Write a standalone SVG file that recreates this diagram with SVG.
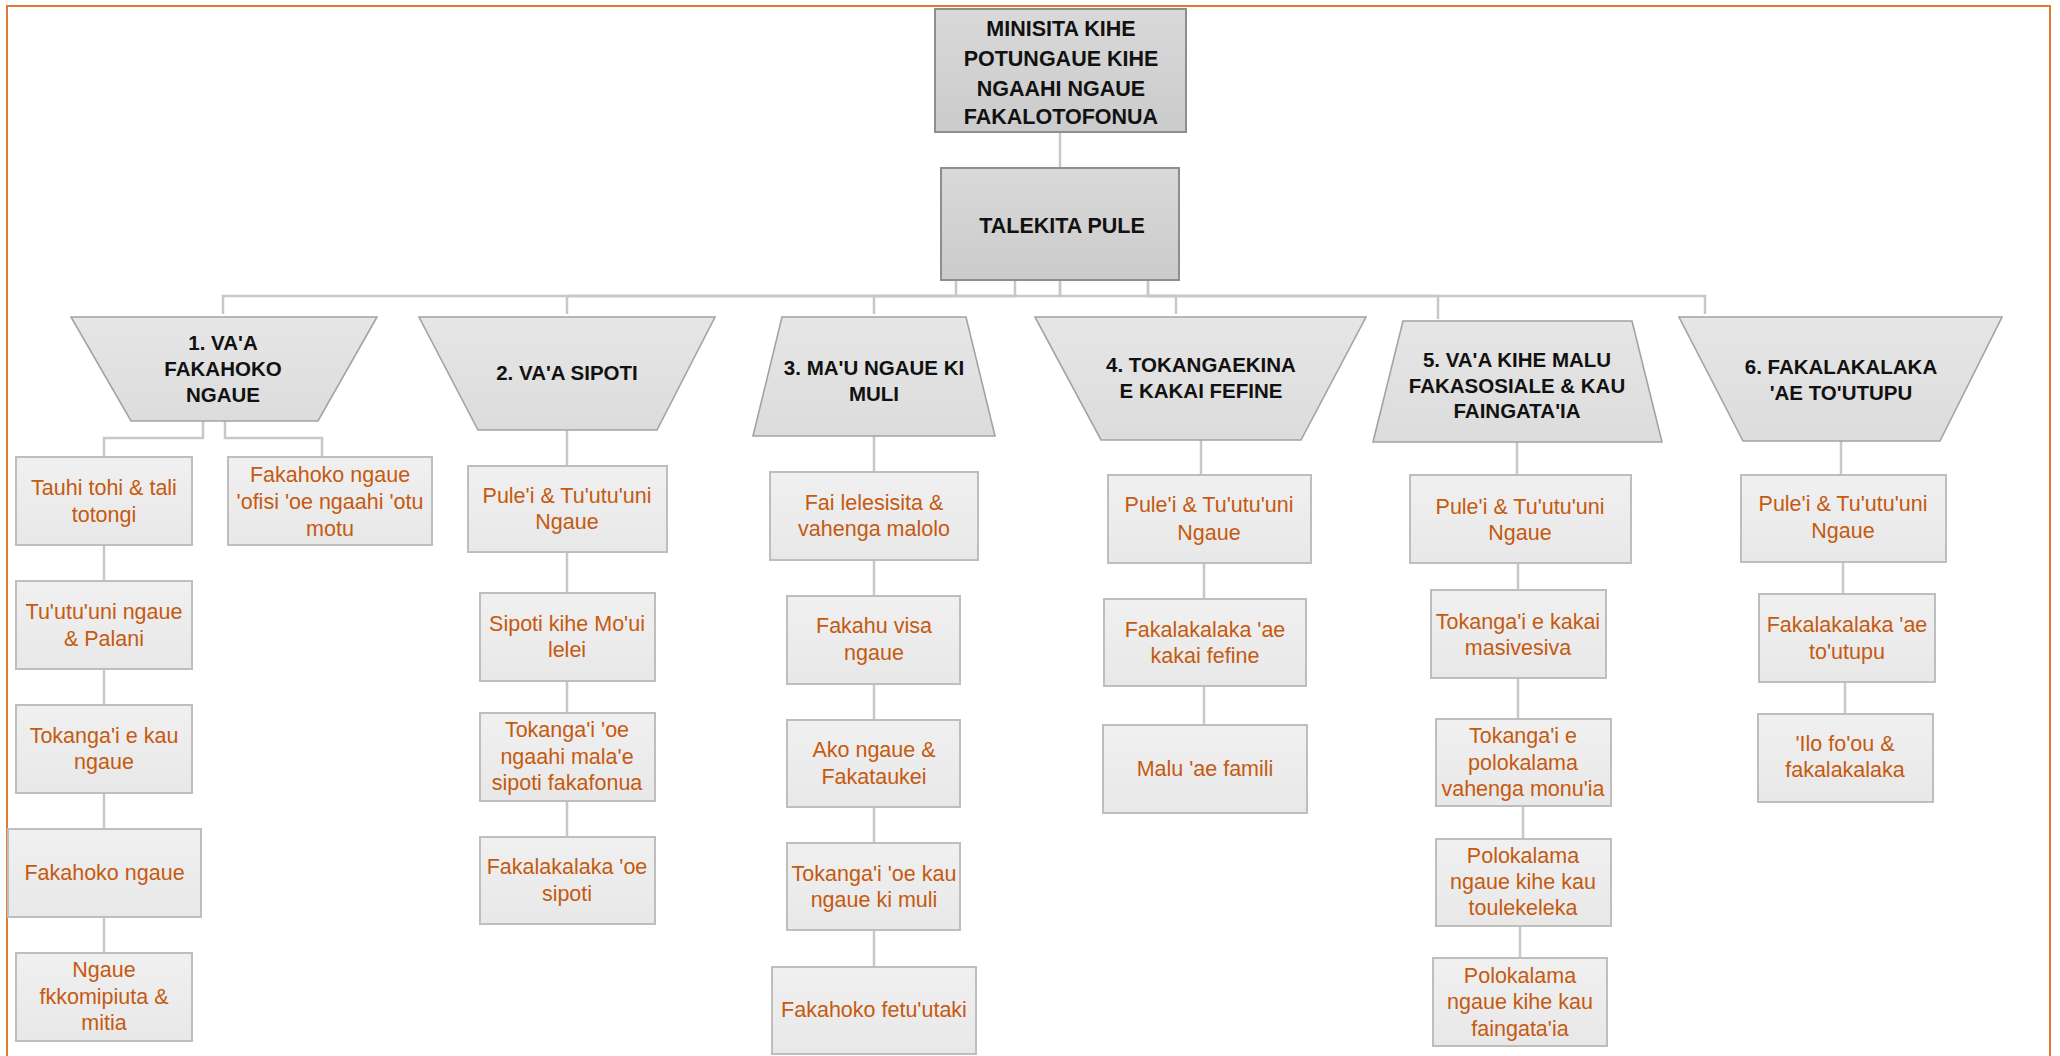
<svg xmlns="http://www.w3.org/2000/svg" width="2060" height="1056" viewBox="0 0 2060 1056">
<defs>
<linearGradient id="gTop" x1="0" y1="0" x2="0" y2="1"><stop offset="0" stop-color="#D9D9D9"/><stop offset="1" stop-color="#CBCBCB"/></linearGradient>
<linearGradient id="gTrap" x1="0" y1="0" x2="0" y2="1"><stop offset="0" stop-color="#E6E6E6"/><stop offset="1" stop-color="#DCDCDC"/></linearGradient>
<linearGradient id="gLeaf" x1="0" y1="0" x2="0" y2="1"><stop offset="0" stop-color="#F0F0F0"/><stop offset="1" stop-color="#E8E8E8"/></linearGradient>
</defs>
<style>
.top{fill:url(#gTop);stroke:#8E8E8E;stroke-width:2}
.trap{fill:url(#gTrap);stroke:#A3A3A3;stroke-width:1.6}
.leaf{fill:url(#gLeaf);stroke:#BEBEBE;stroke-width:2}
.conn path{fill:none;stroke:#C8C8C8;stroke-width:2.5}
.ht{font-family:"Liberation Sans",Arial,sans-serif;font-weight:bold;font-size:21.5px;fill:#111;text-anchor:middle}
.hd{font-family:"Liberation Sans",Arial,sans-serif;font-weight:bold;font-size:20.5px;fill:#111;text-anchor:middle}
.lf{font-family:"Liberation Sans",Arial,sans-serif;font-size:21.5px;fill:#C55A11;text-anchor:middle}
</style>
<rect x="0" y="0" width="2060" height="1056" fill="#FFFFFF"/>
<rect x="7" y="6" width="2043" height="1070" fill="none" stroke="#E07A35" stroke-width="2"/>

<g id="connectors" class="conn">
<path d="M1060,132 V168"/>
<path d="M956,280 V296 H223 V314"/>
<path d="M1015,280 V296 H567 V314"/>
<path d="M1060,280 V296 H874 V314"/>
<path d="M1148,280 V296 H1176 V314"/>
<path d="M1060,280 V296 H1438 V319"/>
<path d="M1148,280 V296 H1705 V314"/>
<path d="M203,421 V438 H104 V457"/>
<path d="M225,421 V438 H322 V457"/>
<path d="M104,545 V581 M104,669 V705 M104,793 V829 M104,917 V953"/>
<path d="M567,430 V466 M567,552 V593 M567,681 V713 M567,801 V837"/>
<path d="M874,436 V472 M874,560 V596 M874,684 V720 M874,807 V843 M874,930 V967"/>
<path d="M1201,440 V475 M1204,563 V599 M1204,686 V725"/>
<path d="M1517,442 V475 M1518,563 V590 M1518,678 V719 M1523,806 V839 M1520,926 V958"/>
<path d="M1841,441 V475 M1843,562 V594 M1845,682 V714"/>
</g>

<g id="minisita"><rect class="top" x="935" y="9" width="251" height="123"/>
<text class="ht" x="1061" y="36">MINISITA KIHE</text><text class="ht" x="1061" y="66">POTUNGAUE KIHE</text><text class="ht" x="1061" y="95.5">NGAAHI NGAUE</text><text class="ht" x="1061" y="124">FAKALOTOFONUA</text></g>
<g id="talekita"><rect class="top" x="941" y="168" width="238" height="112"/>
<text class="ht" x="1062" y="233">TALEKITA PULE</text></g>

<g id="d1"><polygon class="trap" points="71,317 377,317 318,421 131,421"/>
<text class="hd" x="223" y="350">1. VA'A</text><text class="hd" x="223" y="376">FAKAHOKO</text><text class="hd" x="223" y="402">NGAUE</text></g>
<g id="d2"><polygon class="trap" points="419,317 715,317 657,430 478,430"/>
<text class="hd" x="567" y="380">2. VA'A SIPOTI</text></g>
<g id="d3"><polygon class="trap" points="782,317 966,317 995,436 753,436"/>
<text class="hd" x="874" y="375">3. MA'U NGAUE KI</text><text class="hd" x="874" y="401">MULI</text></g>
<g id="d4"><polygon class="trap" points="1035,317 1366,317 1301,440 1101,440"/>
<text class="hd" x="1201" y="372">4. TOKANGAEKINA</text><text class="hd" x="1201" y="398">E KAKAI FEFINE</text></g>
<g id="d5"><polygon class="trap" points="1403,321 1632,321 1662,442 1373,442"/>
<text class="hd" x="1517" y="367">5. VA'A KIHE MALU</text><text class="hd" x="1517" y="393">FAKASOSIALE &amp; KAU</text><text class="hd" x="1517" y="418">FAINGATA'IA</text></g>
<g id="d6"><polygon class="trap" points="1679,317 2002,317 1940,441 1743,441"/>
<text class="hd" x="1841" y="374">6. FAKALAKALAKA</text><text class="hd" x="1841" y="400">'AE TO'UTUPU</text></g>

<g id="n1a"><rect class="leaf" x="16" y="457" width="176" height="88"/><text class="lf" x="104" y="495">Tauhi tohi &amp; tali</text><text class="lf" x="104" y="522">totongi</text></g>
<g id="n1b"><rect class="leaf" x="228" y="457" width="204" height="88"/><text class="lf" x="330" y="482">Fakahoko ngaue</text><text class="lf" x="330" y="509">'ofisi 'oe ngaahi 'otu</text><text class="lf" x="330" y="536">motu</text></g>
<g id="n1c"><rect class="leaf" x="16" y="581" width="176" height="88"/><text class="lf" x="104" y="619">Tu'utu'uni ngaue</text><text class="lf" x="104" y="646">&amp; Palani</text></g>
<g id="n1d"><rect class="leaf" x="16" y="705" width="176" height="88"/><text class="lf" x="104" y="743">Tokanga'i e kau</text><text class="lf" x="104" y="769">ngaue</text></g>
<g id="n1e"><rect class="leaf" x="8" y="829" width="193" height="88"/><text class="lf" x="104.5" y="880">Fakahoko ngaue</text></g>
<g id="n1f"><rect class="leaf" x="16" y="953" width="176" height="88"/><text class="lf" x="104" y="977">Ngaue</text><text class="lf" x="104" y="1004">fkkomipiuta &amp;</text><text class="lf" x="104" y="1030">mitia</text></g>

<g id="n2a"><rect class="leaf" x="468" y="466" width="199" height="86"/><text class="lf" x="567" y="503">Pule'i &amp; Tu'utu'uni</text><text class="lf" x="567" y="529">Ngaue</text></g>
<g id="n2b"><rect class="leaf" x="480" y="593" width="175" height="88"/><text class="lf" x="567" y="631">Sipoti kihe Mo'ui</text><text class="lf" x="567" y="657">lelei</text></g>
<g id="n2c"><rect class="leaf" x="480" y="713" width="175" height="88"/><text class="lf" x="567" y="737">Tokanga'i 'oe</text><text class="lf" x="567" y="764">ngaahi mala'e</text><text class="lf" x="567" y="790">sipoti fakafonua</text></g>
<g id="n2d"><rect class="leaf" x="480" y="837" width="175" height="87"/><text class="lf" x="567" y="874">Fakalakalaka 'oe</text><text class="lf" x="567" y="901">sipoti</text></g>

<g id="n3a"><rect class="leaf" x="770" y="472" width="208" height="88"/><text class="lf" x="874" y="510">Fai lelesisita &amp;</text><text class="lf" x="874" y="536">vahenga malolo</text></g>
<g id="n3b"><rect class="leaf" x="787" y="596" width="173" height="88"/><text class="lf" x="874" y="633">Fakahu visa</text><text class="lf" x="874" y="660">ngaue</text></g>
<g id="n3c"><rect class="leaf" x="787" y="720" width="173" height="87"/><text class="lf" x="874" y="757">Ako ngaue &amp;</text><text class="lf" x="874" y="784">Fakataukei</text></g>
<g id="n3d"><rect class="leaf" x="787" y="843" width="173" height="87"/><text class="lf" x="874" y="881">Tokanga'i 'oe kau</text><text class="lf" x="874" y="907">ngaue ki muli</text></g>
<g id="n3e"><rect class="leaf" x="772" y="967" width="204" height="87"/><text class="lf" x="874" y="1017">Fakahoko fetu'utaki</text></g>

<g id="n4a"><rect class="leaf" x="1108" y="475" width="203" height="88"/><text class="lf" x="1209" y="512">Pule'i &amp; Tu'utu'uni</text><text class="lf" x="1209" y="540">Ngaue</text></g>
<g id="n4b"><rect class="leaf" x="1104" y="599" width="202" height="87"/><text class="lf" x="1205" y="637">Fakalakalaka 'ae</text><text class="lf" x="1205" y="663">kakai fefine</text></g>
<g id="n4c"><rect class="leaf" x="1103" y="725" width="204" height="88"/><text class="lf" x="1205" y="776">Malu 'ae famili</text></g>

<g id="n5a"><rect class="leaf" x="1410" y="475" width="221" height="88"/><text class="lf" x="1520" y="514">Pule'i &amp; Tu'utu'uni</text><text class="lf" x="1520" y="540">Ngaue</text></g>
<g id="n5b"><rect class="leaf" x="1431" y="590" width="175" height="88"/><text class="lf" x="1518" y="629">Tokanga'i e kakai</text><text class="lf" x="1518" y="655">masivesiva</text></g>
<g id="n5c"><rect class="leaf" x="1436" y="719" width="175" height="87"/><text class="lf" x="1523" y="743">Tokanga'i e</text><text class="lf" x="1523" y="770">polokalama</text><text class="lf" x="1523" y="796">vahenga monu'ia</text></g>
<g id="n5d"><rect class="leaf" x="1436" y="839" width="175" height="87"/><text class="lf" x="1523" y="863">Polokalama</text><text class="lf" x="1523" y="889">ngaue kihe kau</text><text class="lf" x="1523" y="915">toulekeleka</text></g>
<g id="n5e"><rect class="leaf" x="1433" y="958" width="174" height="88"/><text class="lf" x="1520" y="983">Polokalama</text><text class="lf" x="1520" y="1009">ngaue kihe kau</text><text class="lf" x="1520" y="1036">faingata'ia</text></g>

<g id="n6a"><rect class="leaf" x="1741" y="475" width="205" height="87"/><text class="lf" x="1843" y="511">Pule'i &amp; Tu'utu'uni</text><text class="lf" x="1843" y="538">Ngaue</text></g>
<g id="n6b"><rect class="leaf" x="1759" y="594" width="176" height="88"/><text class="lf" x="1847" y="632">Fakalakalaka 'ae</text><text class="lf" x="1847" y="659">to'utupu</text></g>
<g id="n6c"><rect class="leaf" x="1758" y="714" width="175" height="88"/><text class="lf" x="1845" y="751">'Ilo fo'ou &amp;</text><text class="lf" x="1845" y="777">fakalakalaka</text></g>
</svg>
